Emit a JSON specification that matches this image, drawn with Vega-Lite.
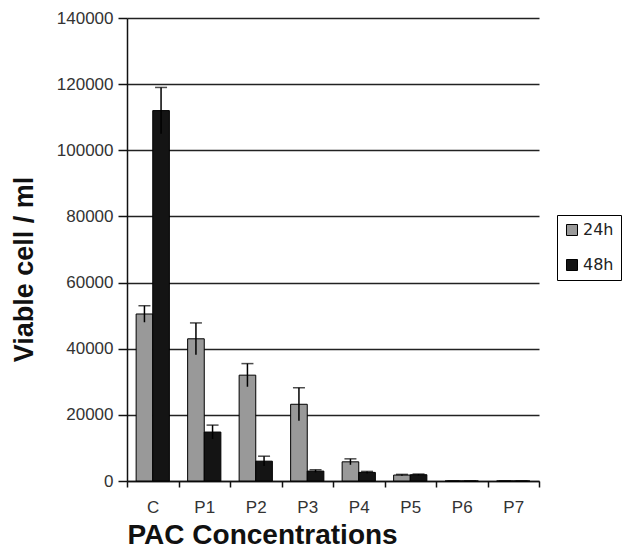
{
  "$schema": "https://vega.github.io/schema/vega-lite/v6.json",
  "width": 412,
  "height": 463,
  "autosize": {"type": "none"},
  "padding": {"left": 127, "top": 18, "right": 94, "bottom": 69},
  "background": "white",
  "config": {"font": "Liberation Sans", "view": {"stroke": null}},
  "data": {
    "values": [
      {"conc": "C", "time": "24h", "value": 50500, "lo": 48000, "hi": 53000},
      {"conc": "C", "time": "48h", "value": 112000, "lo": 105000, "hi": 119000},
      {"conc": "P1", "time": "24h", "value": 43000, "lo": 38200, "hi": 47800},
      {"conc": "P1", "time": "48h", "value": 14800, "lo": 12700, "hi": 16900},
      {"conc": "P2", "time": "24h", "value": 32000, "lo": 28500, "hi": 35500},
      {"conc": "P2", "time": "48h", "value": 6000, "lo": 4500, "hi": 7500},
      {"conc": "P3", "time": "24h", "value": 23200, "lo": 18200, "hi": 28200},
      {"conc": "P3", "time": "48h", "value": 3000, "lo": 2600, "hi": 3400},
      {"conc": "P4", "time": "24h", "value": 5800, "lo": 4900, "hi": 6700},
      {"conc": "P4", "time": "48h", "value": 2600, "lo": 2300, "hi": 2900},
      {"conc": "P5", "time": "24h", "value": 1800, "lo": 1600, "hi": 2000},
      {"conc": "P5", "time": "48h", "value": 1900, "lo": 1700, "hi": 2100},
      {"conc": "P6", "time": "24h", "value": 0, "lo": 0, "hi": 0},
      {"conc": "P6", "time": "48h", "value": 0, "lo": 0, "hi": 0},
      {"conc": "P7", "time": "24h", "value": 0, "lo": 0, "hi": 0},
      {"conc": "P7", "time": "48h", "value": 0, "lo": 0, "hi": 0}
    ]
  },
  "encoding": {
    "x": {
      "field": "conc",
      "type": "nominal",
      "sort": ["C", "P1", "P2", "P3", "P4", "P5", "P6", "P7"],
      "scale": {"paddingInner": 0, "paddingOuter": 0},
      "axis": {
        "title": "PAC Concentrations",
        "titleFontSize": 28,
        "titleFontWeight": "bold",
        "titleColor": "#111",
        "titleAnchor": "start",
        "titleAlign": "left",
        "titleX": 0,
        "titleY": 62,
        "titleBaseline": "alphabetic",
        "labelAngle": 0,
        "labelFontSize": 17,
        "labelColor": "#333",
        "labelPadding": 12,
        "tickBand": "extent",
        "tickSize": 6,
        "tickColor": "#111",
        "tickWidth": 1.5,
        "domainColor": "#111",
        "domainWidth": 1.5
      }
    },
    "xOffset": {
      "field": "time",
      "type": "nominal",
      "scale": {"paddingOuter": 0.55, "paddingInner": 0}
    }
  },
  "layer": [
    {
      "mark": {"type": "bar", "stroke": "#000", "strokeWidth": 1},
      "encoding": {
        "y": {
          "field": "value",
          "type": "quantitative",
          "scale": {"domain": [0, 140000]},
          "axis": {
            "title": "Viable cell / ml",
            "titleFontSize": 27,
            "titleFontWeight": "bold",
            "titleColor": "#111",
            "titleX": -95,
            "titleY": 251,
            "titleBaseline": "alphabetic",
            "titleAngle": -90,
            "values": [0, 20000, 40000, 60000, 80000, 100000, 120000, 140000],
            "format": "d",
            "labelFontSize": 17,
            "labelColor": "#333",
            "labelPadding": 5,
            "tickSize": 9,
            "tickColor": "#111",
            "tickWidth": 1.5,
            "domainColor": "#111",
            "domainWidth": 1.5,
            "grid": true,
            "gridColor": "#222",
            "gridWidth": 1.5
          }
        },
        "fill": {
          "field": "time",
          "type": "nominal",
          "scale": {"domain": ["24h", "48h"], "range": ["#999999", "#141414"]},
          "legend": {
            "title": null,
            "orient": "none",
            "legendX": 430,
            "legendY": 197,
            "strokeColor": "#000",
            "fillColor": "#fff",
            "padding": 7,
            "labelFont": "DejaVu Sans",
            "labelFontSize": 16,
            "labelColor": "#222",
            "symbolType": "square",
            "symbolSize": 121,
            "symbolStrokeColor": "#000",
            "symbolStrokeWidth": 1,
            "rowPadding": 19,
            "labelOffset": 3
          }
        }
      }
    },
    {
      "mark": {"type": "rule", "color": "#000", "strokeWidth": 1.5},
      "encoding": {
        "y": {"field": "lo", "type": "quantitative"},
        "y2": {"field": "hi"}
      }
    },
    {
      "mark": {"type": "tick", "color": "#000", "thickness": 1.5, "size": 12},
      "encoding": {
        "y": {"field": "hi", "type": "quantitative"}
      }
    }
  ]
}
